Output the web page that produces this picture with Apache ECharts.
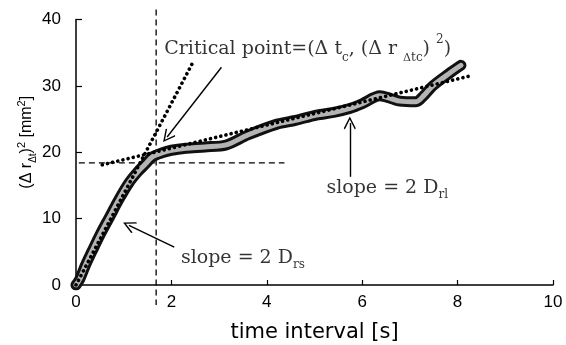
<!DOCTYPE html>
<html>
<head>
<meta charset="utf-8">
<script src="https://cdn.jsdelivr.net/npm/echarts@6/dist/echarts.min.js"></script>
<style>html,body{margin:0;padding:0;background:#fff}#c{width:566px;height:345px}</style>
</head>
<body>
<div id="c"></div>
<script>
// measured curve (time interval [s], (Δr)^2 [mm^2])
const curveX = [0, 0.08, 0.2, 0.35, 0.52, 0.7, 0.9, 1.11, 1.3, 1.45, 1.6, 1.8, 2.0, 2.3, 2.7, 3.15, 3.6, 4.2, 4.6, 5.04, 5.4, 5.74, 6.0, 6.37, 6.6, 6.79, 7.13, 7.3, 7.48, 7.83, 8.07];
const curveY = [0, 0.9, 3.0, 5.3, 7.8, 10.2, 12.9, 15.4, 17.1, 18.2, 19.3, 19.9, 20.3, 20.6, 20.8, 21.1, 22.6, 24.2, 24.8, 25.6, 26.0, 26.6, 27.3, 28.5, 28.1, 27.7, 27.6, 28.6, 30.0, 31.9, 33.1];
// fitted lines
const fitShort = [[0, 0], [2.44, 33.4]];
const fitLong = [[0.55, 18.1], [8.32, 31.6]];
// critical point guides
const critT = 1.68;
const critR = 18.4;
const vGuide = [[critT, 41.5], [critT, -3]];
const hGuide = [[0.06, critR], [4.37, critR]];
// axis ticks
const xTicks = [0, 2, 4, 6, 8, 10];
const yTicks = [0, 10, 20, 30, 40];
// annotation arrows [from, to]
const arrows = [
  [[3.05, 32.8], [1.91, 22.3]],
  [[5.74, 16.3], [5.74, 24.4]],
  [[2.06, 5.7], [1.11, 9.0]]
];
// annotation text anchors (left, middle)
const notes = [
  {pos: [1.85, 35.6], text: 'Critical point=(Δ t{sub|c}, (Δ r {subl|Δ}{sub|tc}) {sup|2})'},
  {pos: [5.25, 14.6], text: 'slope = 2 D{sub|rl}'},
  {pos: [2.2, 4.1], text: 'slope = 2 D{sub|rs}'}
];

const curve = curveX.map((x, i) => [x, curveY[i]]);
const chevron = 'path://M0,0 L6,10 L5,11 L0,2.6 L-5,11 L-6,10 Z';
const serif = '"DejaVu Serif","Liberation Serif",serif';
const sans = '"Liberation Sans",Arial,sans-serif';
const wide = '"DejaVu Sans",sans-serif';

const chart = echarts.init(document.getElementById('c'));
chart.setOption({
  animation: false,
  backgroundColor: '#fff',
  grid: {left: 76, right: 13, top: 19.5, bottom: 60, outerBoundsMode: 'none', containLabel: false},
  xAxis: {
    type: 'value', min: xTicks[0], max: xTicks[xTicks.length - 1], interval: 2,
    name: 'time interval [s]', nameLocation: 'middle', nameGap: 37, nameMoveOverlap: false,
    nameTextStyle: {fontFamily: wide, fontSize: 21, color: '#000'},
    axisLine: {lineStyle: {color: '#000', width: 1.5}},
    axisTick: {inside: true, length: 5, lineStyle: {color: '#000', width: 1.2}},
    axisLabel: {fontFamily: sans, fontSize: 17, color: '#000', margin: 9},
    splitLine: {show: false}
  },
  yAxis: {
    type: 'value', min: yTicks[0], max: yTicks[yTicks.length - 1], interval: 10,
    name: '(Δ r{s|Δt}){p|2} [mm{p|2}]', nameLocation: 'middle', nameGap: 38, nameRotate: 90,
    nameMoveOverlap: false,
    nameTextStyle: {fontFamily: sans, fontSize: 16, color: '#000', lineHeight: 22, padding: [0, 0, 0, 20],
      rich: {s: {fontSize: 10, fontFamily: sans, color: '#000', verticalAlign: 'bottom', lineHeight: 22},
             p: {fontSize: 11, fontFamily: sans, color: '#000', verticalAlign: 'top', lineHeight: 22}}},
    axisLine: {show: true, lineStyle: {color: '#000', width: 1.5}},
    axisTick: {show: true, inside: true, length: 6, lineStyle: {color: '#000', width: 1.2}},
    axisLabel: {fontFamily: sans, fontSize: 17, color: '#000', margin: 15},
    splitLine: {show: false}
  },
  series: [
    {type: 'line', data: vGuide, clip: false, symbol: 'none', silent: true,
     lineStyle: {color: '#000', width: 1.3, type: [6, 4]}},
    {type: 'line', data: hGuide, symbol: 'none', silent: true,
     lineStyle: {color: '#000', width: 1.3, type: [6, 4]}},
    {type: 'line', data: curve, symbol: 'none', smooth: 0.3, silent: true,
     lineStyle: {color: '#111', width: 11, cap: 'round', join: 'round'}},
    {type: 'line', data: curve, symbol: 'none', smooth: 0.3, silent: true,
     lineStyle: {color: '#b4b4b4', width: 5, cap: 'round', join: 'round'}},
    {type: 'line', data: fitShort, symbol: 'none', silent: true,
     lineStyle: {color: '#000', width: 3.6, type: [0.1, 5.2], cap: 'round'}},
    {type: 'line', data: fitLong, symbol: 'none', silent: true,
     lineStyle: {color: '#000', width: 3.6, type: [0.1, 5.2], cap: 'round'}},
    {type: 'line', data: [], symbol: 'none', silent: true,
     markLine: {silent: true, symbol: ['none', chevron], symbolSize: [12, 13],
       label: {show: false},
       lineStyle: {color: '#000', width: 1.4, type: 'solid'},
       data: arrows.map(a => [{coord: a[0]}, {coord: a[1]}])}},
    {type: 'scatter', symbolSize: 0, silent: true, clip: false,
     data: notes.map(n => ({value: n.pos, label: {formatter: n.text}})),
     label: {show: true, position: 'right', distance: 0, color: '#000',
       fontFamily: serif, fontSize: 19, lineHeight: 26,
       rich: {sub: {fontFamily: serif, fontSize: 12, color: '#000', verticalAlign: 'bottom', lineHeight: 22},
              subl: {fontFamily: serif, fontSize: 11, color: '#000', verticalAlign: 'bottom', lineHeight: 30},
              sup: {fontFamily: serif, fontSize: 12, color: '#000', verticalAlign: 'top', lineHeight: 24}}}}
  ]
});
</script>
</body>
</html>
